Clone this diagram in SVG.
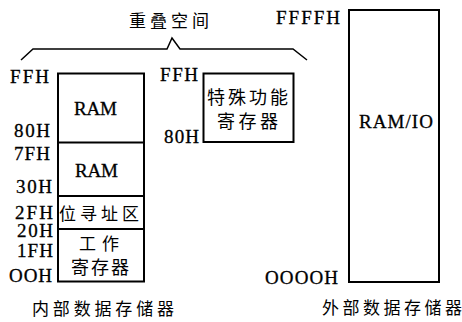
<svg xmlns="http://www.w3.org/2000/svg" width="462" height="322" viewBox="0 0 462 322">
<style>
.box{fill:#fff;stroke:#000;stroke-width:2}
.ln{fill:none;stroke:#000;stroke-width:2}
.br{fill:none;stroke:#000;stroke-width:1.5;stroke-linejoin:miter}
.lat{font-family:"Liberation Serif","DejaVu Serif",serif;font-size:19px;fill:#000;stroke:#000;stroke-width:0.3}
.cjk{font-family:"Noto Sans CJK SC","Noto Sans",sans-serif;font-size:17px;fill:#000}
.cjk18{font-family:"Noto Sans CJK SC","Noto Sans",sans-serif;font-size:18px;fill:#000}
</style>
<rect width="462" height="322" fill="#fff"/>
<g id="connectors">
<path class="br" d="M21,60 L33,49 L167,49 L172,38 L180,49 L293,49 L307,60"/>
</g>
<text class="cjk" x="129" y="26.5" textLength="80" lengthAdjust="spacing">重叠空间</text>
<g id="internal">
<rect class="box" x="58" y="73.5" width="86" height="208"/>
<line class="ln" x1="58" y1="142.5" x2="144" y2="142.5"/>
<line class="ln" x1="58" y1="196" x2="144" y2="196"/>
<line class="ln" x1="58" y1="229" x2="144" y2="229"/>
<text class="lat" x="74" y="115" textLength="43" lengthAdjust="spacing">RAM</text>
<text class="lat" x="75" y="177" textLength="43" lengthAdjust="spacing">RAM</text>
<text class="cjk" x="59" y="220" textLength="80" lengthAdjust="spacing">位寻址区</text>
<text class="cjk" x="79" y="250" textLength="40" lengthAdjust="spacing">工作</text>
<text class="cjk18" x="71" y="274" textLength="58" lengthAdjust="spacing">寄存器</text>
<text class="lat" x="10" y="83" textLength="39" lengthAdjust="spacing">FFH</text>
<text class="lat" x="14" y="137" textLength="36" lengthAdjust="spacing">80H</text>
<text class="lat" x="14" y="160" textLength="36" lengthAdjust="spacing">7FH</text>
<text class="lat" x="16" y="193" textLength="36" lengthAdjust="spacing">30H</text>
<text class="lat" x="15" y="219" textLength="38" lengthAdjust="spacing">2FH</text>
<text class="lat" x="17" y="237" textLength="36" lengthAdjust="spacing">20H</text>
<text class="lat" x="17" y="257" textLength="36" lengthAdjust="spacing">1FH</text>
<text class="lat" x="9" y="282" textLength="43" lengthAdjust="spacing">OOH</text>
<text class="cjk" x="32" y="315" textLength="142" lengthAdjust="spacing">内部数据存储器</text>
</g>
<g id="sfr">
<rect class="box" x="203.5" y="73.5" width="90" height="68.5"/>
<text class="cjk18" x="207" y="104" textLength="81" lengthAdjust="spacing">特殊功能</text>
<text class="cjk18" x="217" y="128" textLength="61" lengthAdjust="spacing">寄存器</text>
<text class="lat" x="160" y="81" textLength="38" lengthAdjust="spacing">FFH</text>
<text class="lat" x="164" y="143" textLength="35" lengthAdjust="spacing">80H</text>
</g>
<g id="external">
<rect class="box" x="349" y="10" width="90" height="272"/>
<text class="lat" x="359" y="128" textLength="74" lengthAdjust="spacing">RAM/IO</text>
<text class="lat" x="276" y="24" textLength="64" lengthAdjust="spacing">FFFFH</text>
<text class="lat" x="265" y="284" textLength="73" lengthAdjust="spacing">OOOOH</text>
<text class="cjk" x="322" y="314" textLength="140" lengthAdjust="spacing">外部数据存储器</text>
</g>
</svg>
